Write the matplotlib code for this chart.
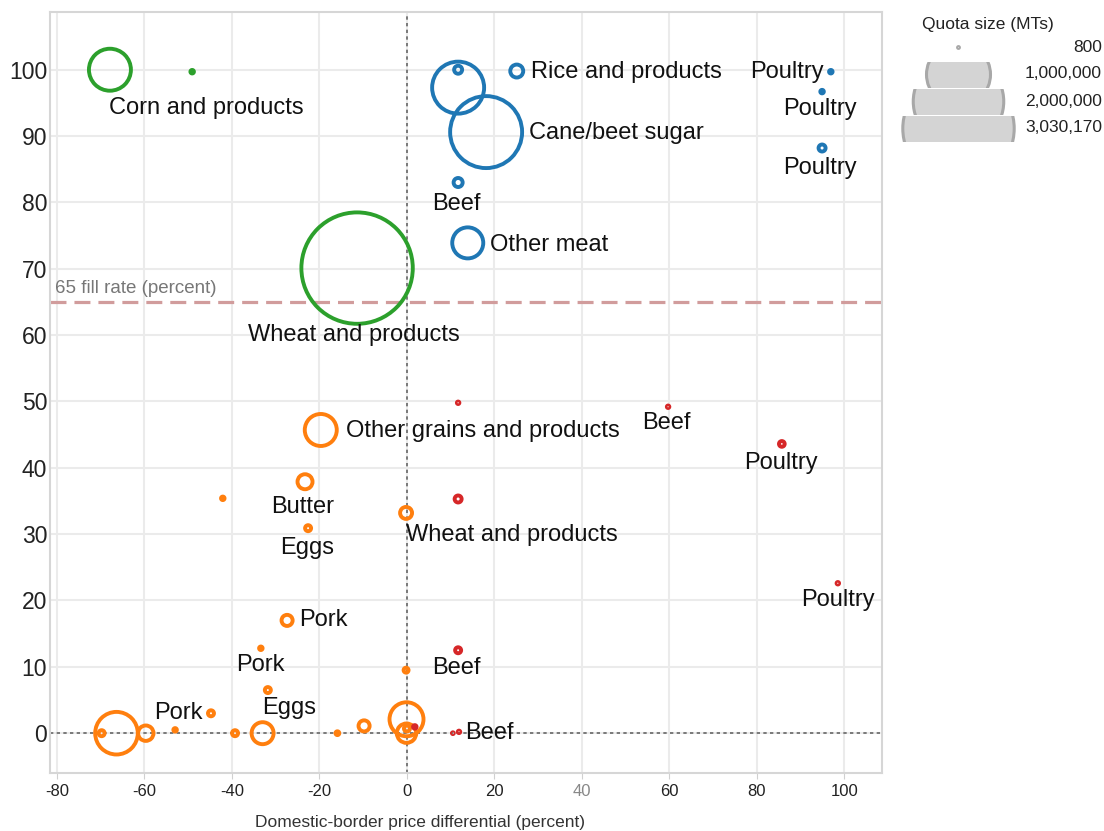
import matplotlib
matplotlib.use('Agg')
import matplotlib.pyplot as plt
import matplotlib.transforms as mtransforms
import numpy as np
from matplotlib.patches import Rectangle

plt.rcParams['font.family'] = ['Liberation Sans', 'DejaVu Sans']
plt.rcParams['axes.unicode_minus'] = False

# 数据: 价格差 (x), 配额完成率 (y), 配额大小 (MTs)
green_x = [-67.9, -49.1, -11.4]
green_y = [100.0, 99.7, 70.1]
green_q = [430000, 3000, 3030170]

blue_x = [11.7, 11.7, 18.1, 25.1, 11.7, 13.9, 96.9, 94.9, 94.9]
blue_y = [100.0, 97.3, 90.6, 99.8, 83.0, 73.9, 99.7, 96.7, 88.2]
blue_q = [15600, 660000, 1265000, 41000, 20000, 235000, 3000, 3000, 12000]

orange_x = [-19.7, -23.3, -42.1, -22.6, -0.2, -27.4, -33.4, -0.2, -31.8, -44.8,
            -66.4, -69.8, -59.7, -53.0, -39.3, -33.0, -15.9, -9.8, -0.1, -0.1, 0.0]
orange_y = [45.7, 37.9, 35.4, 30.9, 33.2, 17.0, 12.8, 9.5, 6.5, 3.0,
            0.0, 0.0, 0.0, 0.5, 0.0, 0.0, 0.0, 1.1, 2.1, 0.0, 0.7]
orange_q = [250000, 55000, 3000, 8800, 35000, 30000, 3000, 6000, 8800, 8800,
            443000, 8800, 58000, 3000, 8800, 118000, 3500, 30000, 282000, 92000, 8800]

red_x = [11.7, 59.7, 85.7, 11.7, 98.5, 11.7, 10.5, 11.9, 1.8]
red_y = [49.8, 49.2, 43.6, 35.3, 22.6, 12.5, 0.0, 0.2, 0.95]
red_q = [1500, 1500, 8000, 12000, 1500, 8800, 800, 1500, 3000]

# 标签 (文字, x, y, 对齐)
labels = [
    ('Corn and products', -68.1, 94.6, 'left'),
    ('Wheat and products', -36.3, 60.3, 'left'),
    ('Rice and products', 28.3, 100.0, 'left'),
    ('Cane/beet sugar', 27.9, 90.8, 'left'),
    ('Beef', 11.4, 80.1, 'center'),
    ('Other meat', 19.0, 73.9, 'left'),
    ('Poultry', 86.9, 100.0, 'center'),
    ('Poultry', 94.4, 94.4, 'center'),
    ('Poultry', 94.4, 85.5, 'center'),
    ('Other grains and products', -13.9, 45.9, 'left'),
    ('Beef', 59.2, 47.1, 'center'),
    ('Poultry', 85.5, 41.0, 'center'),
    ('Butter', -23.8, 34.4, 'center'),
    ('Eggs', -22.9, 28.2, 'center'),
    ('Wheat and products', -0.2, 30.2, 'left'),
    ('Poultry', 98.5, 20.4, 'center'),
    ('Pork', -24.7, 17.3, 'left'),
    ('Pork', -33.6, 10.6, 'center'),
    ('Beef', 11.2, 10.1, 'center'),
    ('Eggs', -27.0, 4.1, 'center'),
    ('Pork', -52.3, 3.3, 'center'),
    ('Beef', 13.3, 0.3, 'left'),
]

legend_values = [800, 1000000, 2000000, 3030170]
legend_texts = ['800', '1,000,000', '2,000,000', '3,030,170']

x_ticks = [-80, -60, -40, -20, 0, 20, 40, 60, 80, 100]
y_ticks = [0, 10, 20, 30, 40, 50, 60, 70, 80, 90, 100]


def size_of(q):
    return np.asarray(q, dtype=float) * 0.002123


W, H = 1104, 831
fig = plt.figure(figsize=(W / 100, H / 100), dpi=100)
ax = fig.add_axes([50 / W, 58 / H, 832 / W, 761 / H])
ax.set_xlim(-81.6, 108.6)
ax.set_ylim(-6.0, 108.7)

ax.set_xticks(x_ticks)
ax.set_yticks(y_ticks)
ax.grid(True, color='#ebebeb', lw=1.5, zorder=0)
ax.set_axisbelow(True)
for sp in ax.spines.values():
    sp.set_color('#d6d6d6')
    sp.set_linewidth(1.5)
ax.tick_params(axis='x', labelsize=12, colors='#d0d0d0', labelcolor='#222222', length=4, pad=4)
ax.tick_params(axis='y', labelsize=16.5, colors='#d0d0d0', labelcolor='#222222', length=0, pad=2)
for lab in ax.get_xticklabels():
    if lab.get_text() in ('40',):
        lab.set_color('#888888')

ax.axvline(0, color='#666666', lw=1.2, linestyle=(0, (2, 2)), zorder=1)
ax.axhline(0, color='#666666', lw=1.2, linestyle=(0, (2, 2)), zorder=1)
ax.axhline(65, color='#d19c9c', lw=2.3, dashes=(5, 2.5), zorder=1)
ax.text(-80.4, 67.0, '65 fill rate (percent)', color='#777777', fontsize=13.5, va='center', ha='left')

series = [
    (green_x, green_y, green_q, '#2ca02c'),
    (blue_x, blue_y, blue_q, '#1f77b4'),
    (orange_x, orange_y, orange_q, '#ff7f0e'),
    (red_x, red_y, red_q, '#d62728'),
]
for xs, ys, qs, col in series:
    order = np.argsort(qs)[::-1]
    xs = np.asarray(xs)[order]
    ys = np.asarray(ys)[order]
    qs = np.asarray(qs)[order]
    ax.scatter(xs, ys, s=size_of(qs), facecolors='none', edgecolors=col,
               linewidths=2.8, zorder=3)

# 标签略微下移
lab_trans = mtransforms.offset_copy(ax.transData, fig=fig, y=-1.5, units='points')
for txt, x, y, ha in labels:
    ax.text(x, y, txt, fontsize=17, color='#111111', ha=ha, va='center', zorder=4,
            transform=lab_trans)

ax.set_xlabel('Domestic-border price differential (percent)', fontsize=12.5, color='#333333')
ax.xaxis.set_label_coords((420 - 50) / 832, -42 / 761)

# 图例
lax = fig.add_axes([890 / W, (H - 160) / H, 214 / W, 160 / H])
lax.set_xlim(0, 214)
lax.set_ylim(160, 0)
lax.axis('off')
lax.text(98, 24, 'Quota size (MTs)', fontsize=12.5, color='#222222', ha='center', va='center')
row_y = [47, 74, 101, 128]
for i, (v, t) in enumerate(zip(legend_values, legend_texts)):
    sc = lax.scatter([68], [row_y[i]], s=size_of([v]), facecolors='#d4d4d4',
                     edgecolors='#a8a8a8', linewidths=2.2)
    if i > 0:
        rect = Rectangle((0, row_y[i] - 12.5), 214, 25.5, transform=lax.transData)
        sc.set_clip_path(rect)
    lax.text(212, row_y[i], t, fontsize=12.5, color='#222222', ha='right', va='center')

fig.savefig('out.png', dpi=100)
